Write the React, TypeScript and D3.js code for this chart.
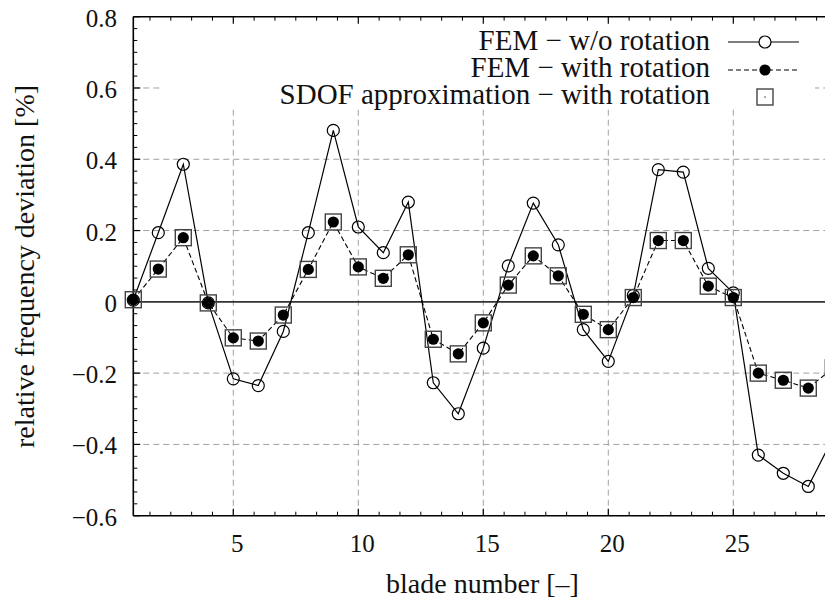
import React from "react";
import * as d3 from "d3";

const blades = [1,2,3,4,5,6,7,8,9,10,11,12,13,14,15,16,17,18,19,20,21,22,23,24,25,26,27,28,29];
const femWoRotation = [0.005,0.194,0.386,-0.003,-0.216,-0.235,-0.083,0.194,0.481,0.210,0.138,0.280,-0.227,-0.314,-0.130,0.101,0.277,0.160,-0.078,-0.167,0.018,0.371,0.364,0.094,0.025,-0.430,-0.481,-0.518,-0.380];
const femWithRotation = [0.006,0.092,0.180,-0.003,-0.101,-0.110,-0.037,0.091,0.224,0.098,0.066,0.132,-0.105,-0.146,-0.059,0.047,0.129,0.073,-0.035,-0.078,0.012,0.172,0.172,0.044,0.012,-0.200,-0.220,-0.242,-0.185];
const sdofWithRotation = [0.006,0.092,0.180,-0.003,-0.101,-0.110,-0.037,0.091,0.224,0.098,0.066,0.132,-0.105,-0.146,-0.059,0.047,0.129,0.073,-0.035,-0.078,0.012,0.172,0.172,0.044,0.012,-0.200,-0.220,-0.242,-0.185];
const xTicks = [5, 10, 15, 20, 25];
const yTicks = [-0.6, -0.4, -0.2, 0, 0.2, 0.4, 0.6, 0.8];
const legendLabels = ["FEM \u2212 w/o rotation", "FEM \u2212 with rotation", "SDOF approximation \u2212 with rotation"];

const W = 825, H = 601;
const L = 133.3, T = 16.7, B = 515.7;
const FONT = "Liberation Serif, DejaVu Serif, Times New Roman, serif";
const ts = (size: number) => ({ fontFamily: FONT, fontSize: size + "px" });

export default function App() {
  const x = d3.scaleLinear().domain([1, 30]).range([L, L + 29 * 25]);
  const y = d3.scaleLinear().domain([-0.6, 0.8]).range([B, T]);
  const R = x.range()[1];

  const solid = d3.line<number>().x((_, i) => x(blades[i])).y(d => y(d))(femWoRotation) || "";
  const dashed = d3.line<number>().x((_, i) => x(blades[i])).y(d => y(d))(femWithRotation) || "";

  const xm: number[] = [];
  for (let m = 0; m < 7; m++) for (let k = 1; k < 6; k++) { const v = m * 5 + k * 5 / 6; if (v >= 1 && v <= 30) xm.push(v); }
  const ym: number[] = [];
  for (let m = 0; m < 7; m++) for (let k = 1; k < 6; k++) ym.push(-0.6 + m * 0.2 + k * 0.2 / 6);

  const gridColor = "#a0a0a0";
  const legendY = [42, 70, 97];
  const legendBase = [50, 77, 104];
  const lx0 = 728, lx1 = 799, lmx = 765;
  const SQ = 16;

  return (
    <svg width={W} height={H} style={{ position: "absolute", left: 0, top: 0, background: "#fff" }}>
      <rect x={0} y={0} width={W} height={H} fill="#fff" />
      {xTicks.map(t => (
        <line key={"gx" + t} x1={x(t)} x2={x(t)} y1={B} y2={T} stroke={gridColor} strokeWidth={1} strokeDasharray="6,4" />
      ))}
      {yTicks.filter(t => t !== 0 && t !== 0.8 && t !== -0.6).map(t => (
        <line key={"gy" + t} x1={L} x2={R} y1={y(t)} y2={y(t)} stroke={gridColor} strokeWidth={1} strokeDasharray="6,4" />
      ))}
      <rect x={163} y={T} width={652} height={107 - T} fill="#fff" />
      <line x1={L} x2={R} y1={y(0)} y2={y(0)} stroke="#333" strokeWidth={1.6} />
      <line x1={L} x2={L} y1={T} y2={B} stroke="#000" strokeWidth={1.6} />
      <line x1={L} x2={R} y1={B} y2={B} stroke="#000" strokeWidth={1.6} />
      <line x1={L} x2={R} y1={T} y2={T} stroke="#000" strokeWidth={1.6} />
      {xTicks.map(t => (
        <g key={"xt" + t}>
          <line x1={x(t)} x2={x(t)} y1={B} y2={B - 7} stroke="#000" strokeWidth={1.2} />
          <line x1={x(t)} x2={x(t)} y1={T} y2={T + 7} stroke="#000" strokeWidth={1.2} />
          <text x={x(t) + 4} y={552} style={ts(25)} textAnchor="middle" fill="#111">{t}</text>
        </g>
      ))}
      {xm.map((t, i) => (
        <g key={"xm" + i}>
          <line x1={x(t)} x2={x(t)} y1={B} y2={B - 4} stroke="#000" strokeWidth={1} />
          <line x1={x(t)} x2={x(t)} y1={T} y2={T + 4} stroke="#000" strokeWidth={1} />
        </g>
      ))}
      {yTicks.map(t => (
        <g key={"yt" + t}>
          <line x1={L} x2={L + 7} y1={y(t)} y2={y(t)} stroke="#000" strokeWidth={1.2} />
          <text x={117} y={y(t) + 10} style={ts(25)} textAnchor="end" fill="#111">{t < 0 ? "\u2212" + Math.abs(t).toFixed(1) : t === 0 ? "0" : t.toFixed(1)}</text>
        </g>
      ))}
      {ym.map((t, i) => (
        <line key={"ym" + i} x1={L} x2={L + 4} y1={y(t)} y2={y(t)} stroke="#000" strokeWidth={1} />
      ))}
      <path d={solid} fill="none" stroke="#000" strokeWidth={1.2} />
      <path d={dashed} fill="none" stroke="#000" strokeWidth={1.1} strokeDasharray="5,3" />
      {femWoRotation.map((v, i) => (
        <circle key={"c" + i} cx={x(blades[i])} cy={y(v)} r={6} fill="none" stroke="#000" strokeWidth={1.2} />
      ))}
      {sdofWithRotation.map((v, i) => (
        <g key={"s" + i}>
          <rect x={x(blades[i]) - SQ / 2} y={y(v) - SQ / 2} width={SQ} height={SQ} fill="none" stroke="#444" strokeWidth={1.4} />
          <circle cx={x(blades[i])} cy={y(v)} r={0.8} fill="#444" />
        </g>
      ))}
      {femWithRotation.map((v, i) => (
        <circle key={"f" + i} cx={x(blades[i])} cy={y(v)} r={5.6} fill="#000" />
      ))}
      {legendLabels.map((s, i) => (
        <text key={"lt" + i} x={710} y={legendBase[i]} style={ts(29)} textAnchor="end" fill="#111">{s}</text>
      ))}
      <line x1={lx0} x2={lx1} y1={legendY[0]} y2={legendY[0]} stroke="#000" strokeWidth={1.2} />
      <circle cx={lmx} cy={legendY[0]} r={6} fill="#fff" stroke="#000" strokeWidth={1.2} />
      <line x1={lx0} x2={lx1} y1={legendY[1]} y2={legendY[1]} stroke="#000" strokeWidth={1.1} strokeDasharray="5,3" />
      <circle cx={lmx} cy={legendY[1]} r={5.6} fill="#000" />
      <rect x={lmx - SQ / 2} y={legendY[2] - SQ / 2} width={SQ} height={SQ} fill="none" stroke="#444" strokeWidth={1.4} />
      <circle cx={lmx} cy={legendY[2]} r={0.8} fill="#444" />
      <text x={482.5} y={593} style={ts(28)} textAnchor="middle" fill="#111">blade number [–]</text>
      <text transform="translate(34,266.5) rotate(-90)" style={ts(28)} textAnchor="middle" fill="#111">relative frequency deviation [%]</text>
    </svg>
  );
}
